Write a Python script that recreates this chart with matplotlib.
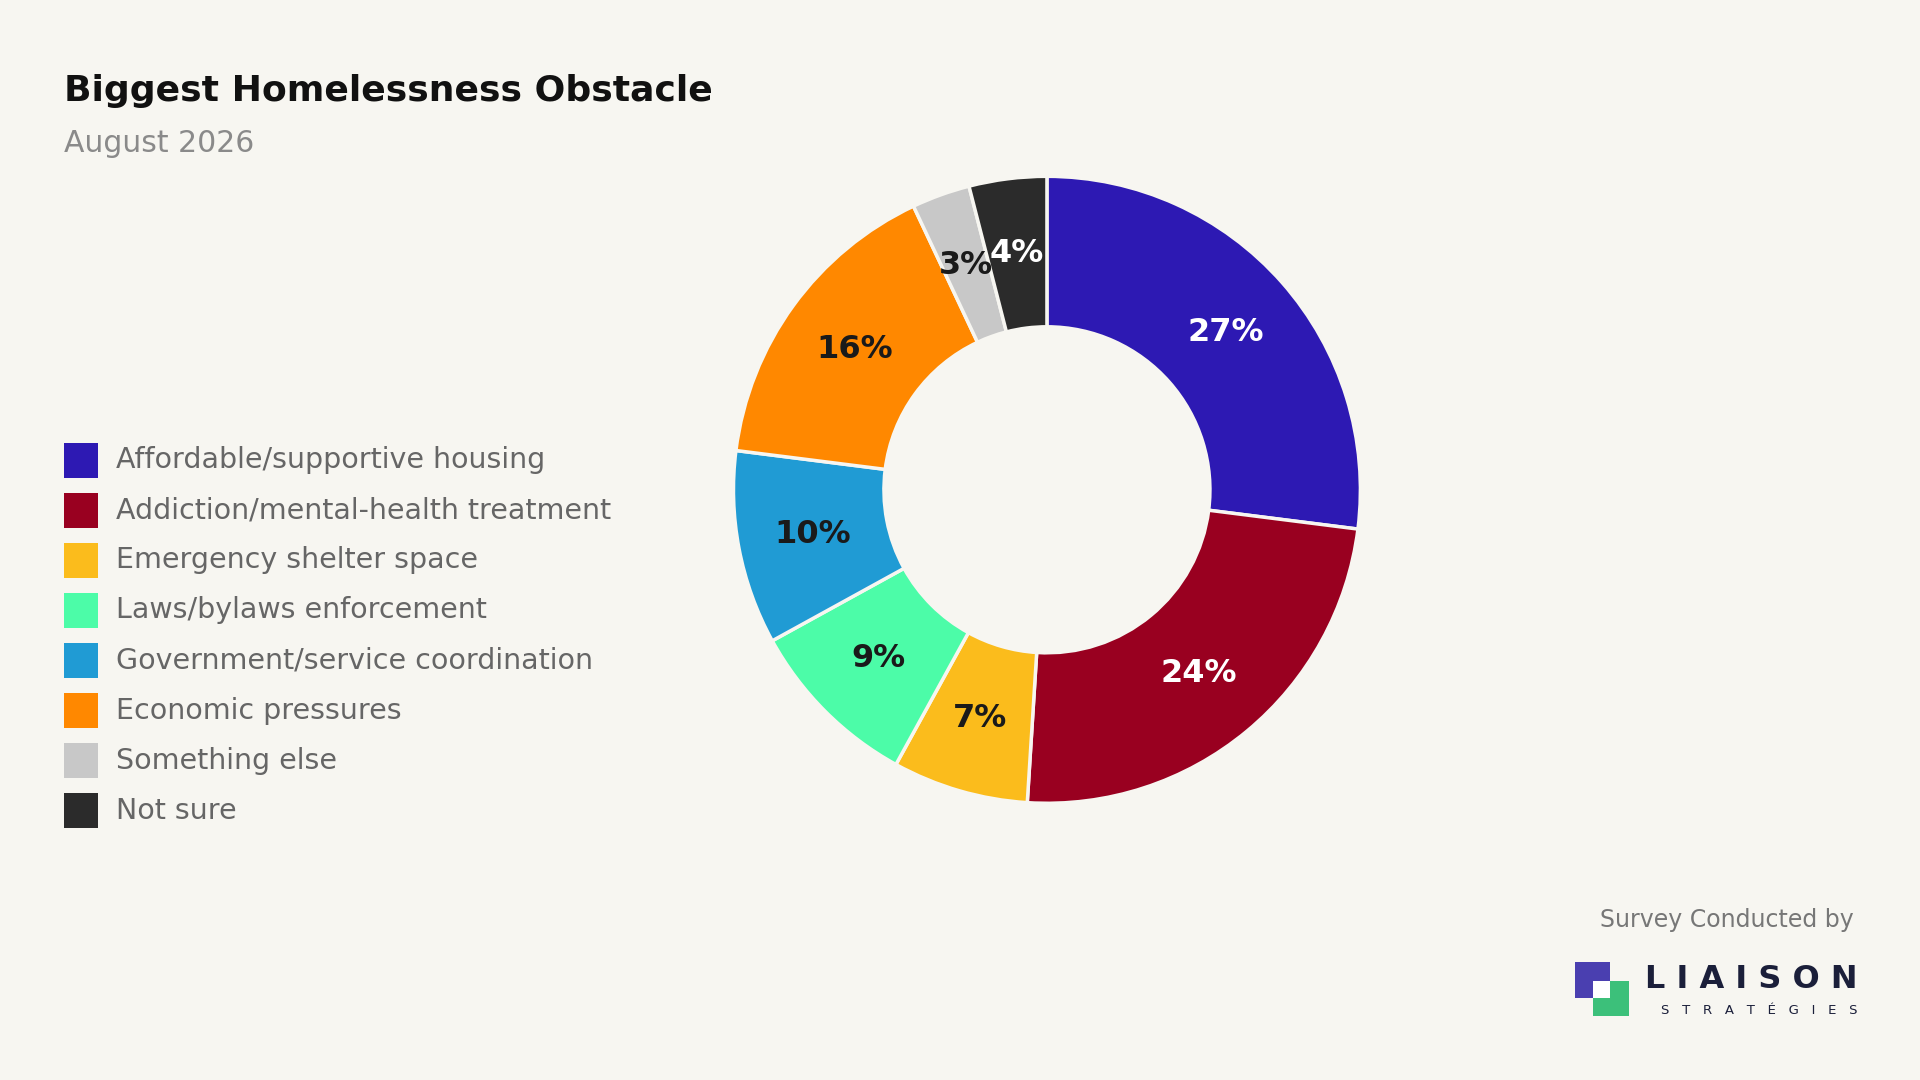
import matplotlib
matplotlib.use("Agg")
import matplotlib.pyplot as plt
from matplotlib.patches import Rectangle
import numpy as np

categories = ["Affordable/supportive housing", "Addiction/mental-health treatment",
              "Emergency shelter space", "Laws/bylaws enforcement",
              "Government/service coordination", "Economic pressures",
              "Something else", "Not sure"]
values = [27, 24, 7, 9, 10, 16, 3, 4]
colors = ["#2d19b3", "#990020", "#fbbc1c", "#4cfca8", "#209bd4", "#ff8800", "#c8c8c8", "#2b2b2b"]
label_colors = ["white", "white", "#1a1a1a", "#1a1a1a", "#1a1a1a", "#1a1a1a", "#1a1a1a", "white"]

W, H = 1568, 882
bg = "#f7f6f1"
fig = plt.figure(figsize=(19.2, 10.8), dpi=100, facecolor=bg)
plt.rcParams['font.family'] = ['DejaVu Sans']

cx, cy, R = 855, 400, 256
ax = fig.add_axes([(cx - R) / W, 1 - (cy + R) / H, 2 * R / W, 2 * R / H])
ax.set_facecolor(bg)
wedges, texts = ax.pie(values, colors=colors, startangle=90, counterclock=False,
                       wedgeprops=dict(width=0.48, edgecolor=bg, linewidth=2.5))
ang = 90
for v, w, lc in zip(values, wedges, label_colors):
    mid = np.deg2rad(ang - v * 3.6 / 2)
    ang -= v * 3.6
    r = 0.76
    ax.text(r * np.cos(mid), r * np.sin(mid), f"{v}%", ha="center", va="center",
            fontsize=23, fontweight="bold", color=lc)
ax.set_xlim(-1, 1); ax.set_ylim(-1, 1); ax.set_aspect("equal")
ax.axis("off")

fig.text(52 / W, 1 - 74 / H, "Biggest Homelessness Obstacle", fontsize=26, fontweight="bold",
         color="#111111", va="center")
fig.text(52 / W, 1 - 117 / H, "August 2026", fontsize=21.5, color="#8a8a8a", va="center")

for i, (c, col) in enumerate(zip(categories, colors)):
    y = 376 + i * 40.85
    fig.patches.append(Rectangle((52 / W, 1 - (y + 14) / H), 28 / W, 28 / H,
                                 transform=fig.transFigure, facecolor=col, edgecolor="none"))
    fig.text(95 / W, 1 - y / H, c, fontsize=20.5, color="#666666", va="center")

fig.text(1514 / W, 1 - 751 / H, "Survey Conducted by", fontsize=17, color="#777777",
         ha="right", va="center")
fig.patches.append(Rectangle((1301 / W, 1 - 830 / H), 29 / W, 29 / H, transform=fig.transFigure,
                             facecolor="#3cc07a", edgecolor="none"))
fig.patches.append(Rectangle((1286 / W, 1 - 815 / H), 29 / W, 29 / H, transform=fig.transFigure,
                             facecolor="#4a3fb0", edgecolor="none"))
fig.patches.append(Rectangle((1301 / W, 1 - 815 / H), 14 / W, 14 / H, transform=fig.transFigure,
                             facecolor="#ffffff", edgecolor="none"))
fig.text(1517 / W, 1 - 800 / H, "L I A I S O N", fontsize=23, fontweight="bold",
         color="#1b1f3a", ha="right", va="center")
fig.text(1517 / W, 1 - 825 / H, "S   T   R   A   T   É   G   I   E   S", fontsize=9.5,
         color="#1b1f3a", ha="right", va="center")

fig.savefig("out.png", dpi=100, facecolor=bg)
